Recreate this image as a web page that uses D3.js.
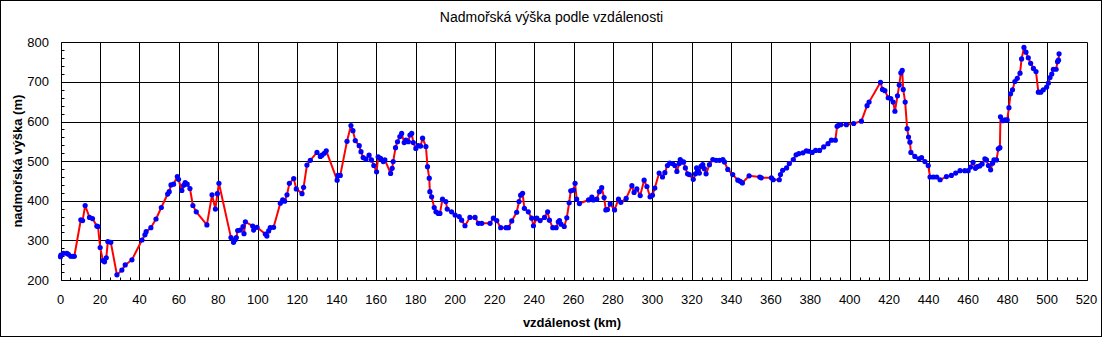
<!DOCTYPE html>
<html>
<head>
<meta charset="utf-8">
<script src="https://cdn.jsdelivr.net/npm/d3@7"></script>
<style>
  html, body { margin: 0; padding: 0; background: #fff; }
  svg { display: block; }
  text { font-family: "Liberation Sans", Arial, sans-serif; fill: #000; }
</style>
</head>
<body>
<svg id="chart" width="1103" height="338"></svg>
<script>
const titleText = "Nadmořská výška podle vzdálenosti";
const xAxisTitle = "vzdálenost (km)";
const yAxisTitle = "nadmořská výška (m)";
const xTicks = [0,20,40,60,80,100,120,140,160,180,200,220,240,260,280,300,320,340,360,380,400,420,440,460,480,500,520];
const yTicks = [200,300,400,500,600,700,800];

const distanceKm = [
0,0.2,1.5,3.2,4,5.2,6.3,7,10.3,11.2,12.5,14.7,16.2,18.4,19,20.1,21.5,22.3,23.2,24,25.5,28.6,31.1,32.8,36.2,
41.3,42.8,43.4,45.8,48.4,51.1,54.3,55.1,56,57.3,59.2,59.8,61.5,62.4,63.2,64.2,65.6,67.1,68.8,74.2,76.8,78.5,79.5,80.3,
86.4,87.7,88.6,89.1,89.8,91.1,92.5,93,93.7,97.4,97.9,99.6,103.8,104.6,105.5,106.3,108,111.4,112.6,113.6,114.8,116,118.2,119.5,
122.4,123.2,124.9,126.6,130,131.7,132.5,133.7,134.7,140.2,140.6,141.8,145.2,147.2,148.2,149.4,151.4,152.3,153.4,154.8,156.4,157.6,158.8,
160.2,161,162.2,163.6,164.4,167.3,168.1,168.6,169.8,170.8,172,172.9,174.2,175.1,176.3,177.1,178,178.8,180.1,181.3,182.5,183.5,185.2,
186,186.9,187.2,188.1,189.4,190.3,191.5,192.3,193.6,195.3,196,198.2,200,202.1,203.3,205,207.5,210.1,211.8,213.5,217.7,219.4,221.1,
223.1,225.8,227,228.7,231.2,232.4,233.2,234.2,235.1,237.1,238.8,239.7,241.4,243.1,245.3,246.9,247.8,249.5,251.2,252.3,252.9,253.7,
255.3,256.6,257.8,258.6,260,260.8,261.6,263,267.6,269.3,270.1,271.8,273.1,274.3,275.5,276.4,277.2,278.6,280.8,282.8,284,286.7,
289.6,290.7,292.1,293.8,295.8,297.2,298.8,300,301.2,303.4,305.1,306.3,307.6,308.8,310.2,311.4,312.4,313.6,314.1,315,315.8,316.7,
317.8,318.7,320.7,321.8,322.4,322.9,323.8,324.6,325.5,326.3,327.2,328.9,330.6,332.3,334,335.7,336.5,338.2,340.7,343.3,344.5,345.6,
349,354.4,355.2,360.3,361.2,364.3,364.9,366,368,369.4,371.4,372.8,374.2,376.3,378,379.3,381,382.7,384.7,386.8,389,390.7,392.7,
393.6,394.1,395.4,398.3,402,405.9,408.8,409.8,415.6,416.6,417.8,419.5,420.8,422,422.9,424.2,425.1,425.9,426.6,427.1,428.1,429.1,
429.8,430.5,431,433,435.1,436.4,438.1,439.8,440.7,442.4,444.1,445.8,449,451.5,453.7,455.9,458.3,460,461.2,462.5,463.7,464.6,465.9,
467.1,468.5,469.3,470.3,471.4,472.4,473.1,474.4,475.3,476.1,476.4,477.5,478.6,479.8,480.7,481.5,482.5,483.7,484.9,486.3,487.1,
488.3,489.3,490.5,491.7,493.1,494.4,495.6,496.8,498.1,499.8,500.7,501.5,502.4,503.2,504.6,505.3,505.8,506.1
];
const elevationM = [
259,263,267,267,265,260,260,260,352,350,388,358,355,336,335,282,249,246,256,297,295,213,225,238,251,
301,314,322,332,354,383,417,423,440,442,461,454,426,439,446,442,431,388,372,339,415,379,418,444,
307,295,302,307,325,326,335,317,347,336,326,333,316,311,324,332,333,394,402,399,415,444,456,430,
418,434,490,502,522,512,515,520,526,452,464,464,550,590,577,552,539,524,509,505,515,503,489,
473,511,507,499,503,469,482,499,534,549,562,570,547,553,549,566,570,547,532,539,538,558,537,
486,457,423,410,383,372,368,368,404,398,379,372,364,360,351,337,358,358,343,343,343,356,350,
332,332,332,349,371,398,414,419,381,372,356,337,356,350,358,372,351,332,332,347,350,341,
335,357,395,425,427,444,404,393,402,409,402,404,423,433,408,377,378,392,377,404,396,406,
438,421,430,413,452,436,410,414,432,470,460,471,489,495,494,489,474,494,504,498,498,483,
468,466,454,468,483,477,470,487,491,481,468,491,504,502,502,504,498,479,466,452,449,445,
463,460,458,458,453,453,466,477,483,494,504,516,519,521,526,525,522,527,527,536,544,553,553,
588,590,592,592,595,601,640,649,699,681,678,660,658,649,626,665,692,723,729,681,649,582,
561,548,522,512,506,509,499,489,460,460,460,453,461,464,470,476,476,476,485,497,482,486,488,
493,506,503,489,478,495,503,503,531,534,612,602,604,604,635,670,680,701,709,722,758,
787,775,761,747,734,726,674,674,680,687,697,711,720,732,732,751,755,771
];

const W = 1103, H = 338;
const plot = { left: 60.5, right: 1086.5, top: 42.3, bottom: 280 };
const svg = d3.select("#chart");

// outer frame
svg.append("rect").attr("x", 0.5).attr("y", 0.5).attr("width", W - 2).attr("height", H - 2)
  .attr("fill", "#fff").attr("stroke", "#000").attr("stroke-width", 1);

const x = d3.scaleLinear().domain([0, 520]).range([plot.left, plot.right]);
const y = d3.scaleLinear().domain([200, 800]).range([plot.bottom, plot.top]);
const crisp = v => Math.round(v) + 0.5;

const g = svg.append("g");

// minor ticks (inside)
const xMinor = d3.range(0, 521, 5);
g.selectAll("line.xminor").data(xMinor).join("line")
  .attr("x1", d => crisp(x(d))).attr("x2", d => crisp(x(d)))
  .attr("y1", crisp(y(200))).attr("y2", crisp(y(200)) - 3)
  .attr("stroke", "#000").attr("stroke-width", 1);
const yMinor = d3.range(200, 801, 20);
g.selectAll("line.yminor").data(yMinor).join("line")
  .attr("y1", d => crisp(y(d))).attr("y2", d => crisp(y(d)))
  .attr("x1", crisp(x(0))).attr("x2", crisp(x(0)) + 3)
  .attr("stroke", "#000").attr("stroke-width", 1);

// grid
g.selectAll("line.vgrid").data(xTicks).join("line")
  .attr("x1", d => crisp(x(d))).attr("x2", d => crisp(x(d)))
  .attr("y1", crisp(y(800))).attr("y2", crisp(y(200)))
  .attr("stroke", "#000").attr("stroke-width", 1);
g.selectAll("line.hgrid").data(yTicks).join("line")
  .attr("y1", d => crisp(y(d))).attr("y2", d => crisp(y(d)))
  .attr("x1", crisp(x(0))).attr("x2", crisp(x(520)))
  .attr("stroke", "#000").attr("stroke-width", 1);

// tick labels
g.selectAll("text.xt").data(xTicks).join("text")
  .attr("x", d => x(d)).attr("y", 304)
  .attr("text-anchor", "middle").attr("font-size", 13).text(d => d);
g.selectAll("text.yt").data(yTicks).join("text")
  .attr("x", 49).attr("y", d => y(d) + 4.5)
  .attr("text-anchor", "end").attr("font-size", 13).text(d => d);

// titles
svg.append("text").attr("x", 551.5).attr("y", 22).attr("text-anchor", "middle")
  .attr("font-size", 14).text(titleText);
svg.append("text").attr("x", 572).attr("y", 327).attr("text-anchor", "middle")
  .attr("font-size", 13).attr("font-weight", "bold").text(xAxisTitle);
svg.append("text").attr("transform", `translate(22, ${(plot.top + plot.bottom) / 2}) rotate(-90)`)
  .attr("text-anchor", "middle").attr("font-size", 13).attr("font-weight", "bold").text(yAxisTitle);

// data
const pts = distanceKm.map((d, i) => [d, elevationM[i]]);
const line = d3.line().x(d => x(d[0])).y(d => y(d[1]));
g.append("path").datum(pts).attr("d", line)
  .attr("fill", "none").attr("stroke", "#ff0000").attr("stroke-width", 2).attr("stroke-linejoin", "round");
g.selectAll("circle.pt").data(pts).join("circle")
  .attr("cx", d => x(d[0])).attr("cy", d => y(d[1])).attr("r", 2.6)
  .attr("fill", "#0000ff");
</script>
</body>
</html>
